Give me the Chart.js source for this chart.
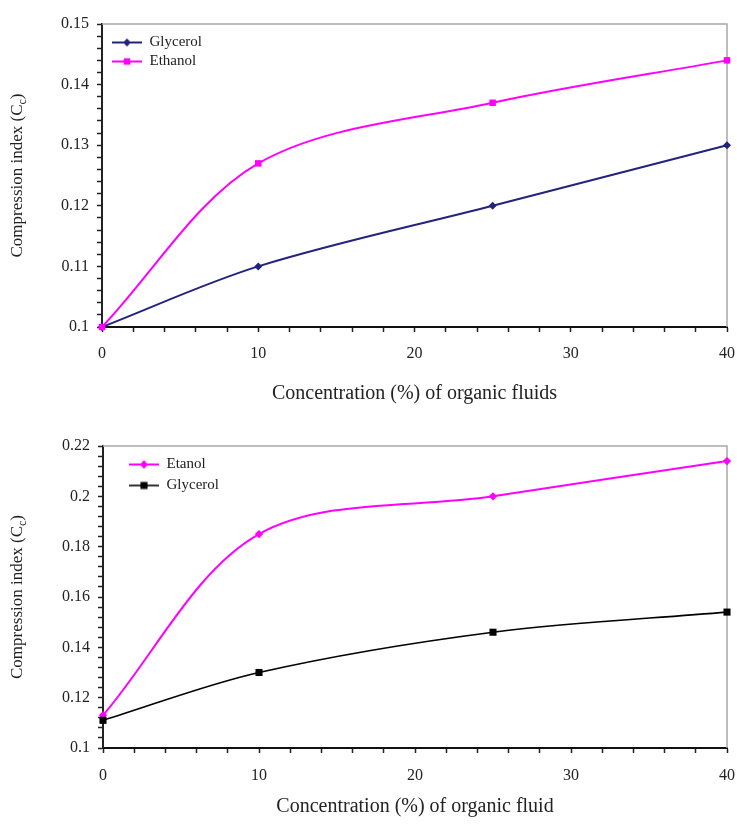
<!DOCTYPE html>
<html lang="en">
<head>
<meta charset="UTF-8">
<title>Compression index vs concentration of organic fluids</title>
<script src="https://cdn.jsdelivr.net/npm/chart.js"></script>
<style>
  html, body { margin: 0; padding: 0; background: #fff; }
  canvas { display: block; }
</style>
</head>
<body>
<canvas id="upper" width="737" height="410"></canvas>
<canvas id="lower" width="737" height="415"></canvas>
<script>
// concentration of organic fluid (%)
const concentration = [0, 10, 25, 40];

// upper panel
const glycerolUpper = [0.100, 0.110, 0.120, 0.130];
const ethanolUpper = [0.100, 0.127, 0.137, 0.144];
const yLabelsUpper = [0.1, 0.11, 0.12, 0.13, 0.14, 0.15];

// lower panel
const ethanolLower = [0.113, 0.185, 0.200, 0.214];
const glycerolLower = [0.111, 0.130, 0.146, 0.154];
const yLabelsLower = [0.1, 0.12, 0.14, 0.16, 0.18, 0.2, 0.22];

const xLabels = [0, 10, 20, 30, 40];

const SERIF = '"Liberation Serif", "Times New Roman", serif';
const INK = '#222';

function points(ys) {
    return concentration.map((x, i) => ({ x: x, y: ys[i] }));
}

// only the listed values get a label, the rest are minor tick marks
function labelOnly(list) {
    return function (value) {
        const hit = list.find(t => Math.abs(t - value) < 1e-9);
        return hit === undefined ? '' : String(hit);
    };
}

// line + marker swatch used as the legend point style
function swatch(ds) {
    const c = document.createElement('canvas');
    c.width = 30;
    c.height = 12;
    const g = c.getContext('2d');
    g.strokeStyle = ds.borderColor;
    g.lineWidth = ds.borderWidth;
    g.beginPath();
    g.moveTo(0, 6);
    g.lineTo(30, 6);
    g.stroke();
    g.fillStyle = ds.pointBackgroundColor;
    const r = ds.pointRadius;
    g.beginPath();
    if (ds.pointStyle === 'rectRot') {
        g.moveTo(15, 6 - r);
        g.lineTo(15 + r, 6);
        g.lineTo(15, 6 + r);
        g.lineTo(15 - r, 6);
        g.closePath();
    } else {
        const s = r * Math.SQRT1_2;
        g.rect(15 - s, 6 - s, 2 * s, 2 * s);
    }
    g.fill();
    return c;
}

function series(label, ys, color, style, radius, width, order) {
    return {
        label: label,
        data: points(ys),
        borderColor: color,
        backgroundColor: color,
        pointBackgroundColor: color,
        pointBorderColor: color,
        borderWidth: width,
        pointStyle: style,
        pointRadius: radius,
        pointBorderWidth: 0,
        tension: 0.33,
        clip: false,
        order: order
    };
}

// legend sits inside the plot area, moved to its top-left corner
const legendShift = {
    id: 'legendShift',
    afterLayout(chart, args, opts) {
        const lg = chart.legend;
        const a = chart.chartArea;
        const w = lg.width, h = lg.height;
        lg.left = a.left + opts.x;
        lg.top = a.top + opts.y;
        lg.right = lg.left + w;
        lg.bottom = lg.top + h;
    }
};

// grey frame on the top and right of the plot area
const plotFrame = {
    id: 'plotFrame',
    beforeDatasetsDraw(chart) {
        const { ctx, chartArea: a } = chart;
        ctx.save();
        ctx.strokeStyle = '#a8a8a8';
        ctx.lineWidth = 1.5;
        ctx.beginPath();
        ctx.moveTo(a.left, a.top);
        ctx.lineTo(a.right, a.top);
        ctx.lineTo(a.right, a.bottom);
        ctx.stroke();
        ctx.restore();
    }
};

// vertical axis title with a subscript c
const yTitle = {
    id: 'yTitle',
    afterDraw(chart, args, opts) {
        const { ctx, chartArea: a } = chart;
        const big = opts.size + 'px ' + SERIF;
        const small = Math.round(opts.size * 0.68) + 'px ' + SERIF;
        const parts = [
            ['Compression index (C', big, 0],
            ['c', small, opts.size * 0.3],
            [')', big, 0]
        ];
        ctx.save();
        ctx.translate(opts.x, (a.top + a.bottom) / 2);
        ctx.rotate(-Math.PI / 2);
        ctx.fillStyle = INK;
        ctx.textBaseline = 'middle';
        ctx.textAlign = 'left';
        let total = 0;
        parts.forEach(p => { ctx.font = p[1]; total += ctx.measureText(p[0]).width; });
        let x = -total / 2;
        parts.forEach(p => {
            ctx.font = p[1];
            ctx.fillText(p[0], x, p[2]);
            x += ctx.measureText(p[0]).width;
        });
        ctx.restore();
    }
};

function makeChart(id, datasets, o) {
    return new Chart(document.getElementById(id), {
        type: 'line',
        data: { datasets: datasets },
        plugins: [legendShift, plotFrame, yTitle],
        options: {
            responsive: false,
            animation: false,
            devicePixelRatio: 1,
            layout: { padding: { top: o.top, right: 10, left: 0, bottom: 0 } },
            plugins: {
                tooltip: { enabled: false },
                legend: {
                    position: 'chartArea',
                    align: 'start',
                    labels: {
                        usePointStyle: true,
                        pointStyleWidth: 30,
                        padding: o.legendGap,
                        color: INK,
                        font: { family: SERIF, size: 15 },
                        sort: (a, b) => a.datasetIndex - b.datasetIndex,
                        generateLabels(chart) {
                            const items = Chart.defaults.plugins.legend.labels.generateLabels(chart);
                            items.forEach(it => { it.pointStyle = swatch(chart.data.datasets[it.datasetIndex]); });
                            return items;
                        }
                    }
                },
                legendShift: { x: o.legendX, y: o.legendY },
                yTitle: { x: 18, size: 17 }
            },
            scales: {
                x: {
                    type: 'linear',
                    min: 0,
                    max: 40,
                    afterFit: s => {
                        s.height = o.xHeight;
                        s.paddingLeft = 0;
                        s.paddingRight = 0;
                    },
                    ticks: {
                        stepSize: 2,
                        autoSkip: false,
                        maxRotation: 0,
                        padding: o.xTickPad,
                        color: INK,
                        font: { family: SERIF, size: 16 },
                        callback: labelOnly(xLabels)
                    },
                    grid: { drawOnChartArea: false, tickLength: 5, tickColor: '#222', tickWidth: 1.5 },
                    border: { color: '#111', width: 2 },
                    title: {
                        display: true,
                        text: o.xTitle,
                        color: INK,
                        font: { family: SERIF, size: 20 },
                        padding: { top: 0, bottom: o.xTitlePad }
                    }
                },
                y: {
                    min: o.yMin,
                    max: o.yMax,
                    afterFit: s => { s.width = o.yWidth; },
                    ticks: {
                        stepSize: o.yStep,
                        autoSkip: false,
                        padding: 8,
                        color: INK,
                        font: { family: SERIF, size: 16 },
                        callback: labelOnly(o.yLabels)
                    },
                    grid: { drawOnChartArea: false, tickLength: 5, tickColor: '#222', tickWidth: 1.5 },
                    border: { color: '#222', width: 2 }
                }
            }
        }
    });
}

makeChart('upper', [
    series('Glycerol', glycerolUpper, '#23237e', 'rectRot', 4, 2, 1),
    series('Ethanol', ethanolUpper, '#ff00ff', 'rect', 4.6, 2, 0)
], {
    top: 24, yWidth: 102, xHeight: 83, xTickPad: 12, xTitlePad: 4,
    yMin: 0.1, yMax: 0.15, yStep: 0.002, yLabels: yLabelsUpper,
    xTitle: 'Concentration (%) of organic fluids',
    legendX: 6, legendY: 7, legendGap: 4
});

makeChart('lower', [
    series('Etanol', ethanolLower, '#ff00ff', 'rectRot', 4.2, 2, 1),
    series('Glycerol', glycerolLower, '#000000', 'rect', 5, 1.6, 0)
], {
    top: 36, yWidth: 103, xHeight: 77, xTickPad: 13, xTitlePad: 6,
    yMin: 0.1, yMax: 0.22, yStep: 0.004, yLabels: yLabelsLower,
    xTitle: 'Concentration (%) of organic fluid',
    legendX: 20, legendY: 5, legendGap: 6
});
</script>
</body>
</html>
